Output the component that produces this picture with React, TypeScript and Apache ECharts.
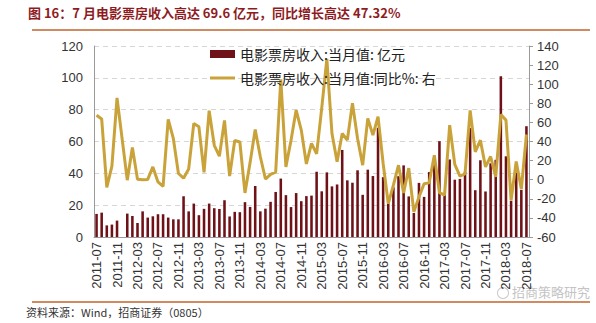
import React, { useEffect, useRef } from "react";
import * as echarts from "echarts";

const categories = [
  "2011-07","2011-08","2011-09","2011-10","2011-11","2011-12",
  "2012-01","2012-02","2012-03","2012-04","2012-05","2012-06","2012-07","2012-08","2012-09","2012-10","2012-11","2012-12",
  "2013-01","2013-02","2013-03","2013-04","2013-05","2013-06","2013-07","2013-08","2013-09","2013-10","2013-11","2013-12",
  "2014-01","2014-02","2014-03","2014-04","2014-05","2014-06","2014-07","2014-08","2014-09","2014-10","2014-11","2014-12",
  "2015-01","2015-02","2015-03","2015-04","2015-05","2015-06","2015-07","2015-08","2015-09","2015-10","2015-11","2015-12",
  "2016-01","2016-02","2016-03","2016-04","2016-05","2016-06","2016-07","2016-08","2016-09","2016-10","2016-11","2016-12",
  "2017-01","2017-02","2017-03","2017-04","2017-05","2017-06","2017-07","2017-08","2017-09","2017-10","2017-11","2017-12",
  "2018-01","2018-02","2018-03","2018-04","2018-05","2018-06","2018-07",
];

// 电影票房收入:当月值 (亿元)
const boxOffice = [
  14.5, 15.3, 7.3, 7.8, 10.3, null,
  14.7, 13.2, 8.8, 16.1, 12.2, 13.0, 14.3, 14.3, 12.2, 11.1, 11.1, 25.6,
  16.1, 21.0, 13.7, 17.7, 21.0, 18.1, 17.6, 23.1, 12.9, 15.8, 15.6, 21.9,
  18.9, 32.1, 16.1, 17.8, 22.1, 28.3, 36.7, 26.3, 18.8, 27.6, 22.5, 25.7,
  26.0, 41.0, 28.7, 40.6, 31.8, 33.0, 54.7, 35.6, 34.1, 41.9, 26.5, 42.3,
  38.3, 68.6, 37.6, 21.0, 31.2, 38.2, 45.0, 25.5, 15.1, 34.0, 25.2, 40.8,
  48.0, 60.2, 26.5, 48.7, 36.0, 36.5, 41.0, 68.5, 29.4, 48.2, 28.6, 46.3,
  48.5, 101.0, 50.7, 22.8, 40.5, 29.6, 69.6,
];

// 电影票房收入:当月值:同比 (%)
const yoy = [
  67.5, 63.6, -8, 14.3, 85.7, null,
  -0.5, 33.7, 0.5, 0, 0.3, 13.4, -2.3, -7, 63.2, 43.2, 6.5, 1.6,
  11.2, 58.9, 55.4, 7.7, 72.2, 36, 24.6, 62, 3.8, 41, 39.5, -13.8,
  17.9, 52.6, 24, 0.7, 5.6, 8, 105, 13.4, 41.4, 72.9, 52, 16.5,
  38, 27, 75, 126.5, 48.4, 18.7, 48.4, 41.4, 80, 43.2, 15.2, 64.2,
  46.7, 65.9, 17, -25, -5.8, 15.2, -14, 12.2, -33.7, -18, -4.3, -3.3,
  25.7, -13.6, -16.2, 57.2, 16, 3.8, 6, 72.5, 29.2, 41.4, 13.4, 24.3,
  2.9, 68.2, 62.4, -21.5, 19, -9.8, 47.32,
];

const leftTicks = { min: 0, max: 120, interval: 20 };
const rightTicks = { min: -60, max: 140, interval: 20 };

const titleText = "图 16：7 月电影票房收入高达 69.6 亿元，同比增长高达 47.32%";
const sourceText = "资料来源：Wind，招商证券（0805）";
const barName = "电影票房收入:当月值: 亿元";
const lineName = "电影票房收入:当月值:同比%: 右";

const BAR_COLOR = "#6e1218";
const LINE_COLOR = "#c9a23a";
const CJK = "'Noto Sans CJK SC', 'Liberation Sans', sans-serif";
const NUM = "'Liberation Sans', Arial, sans-serif";

export default function App() {
  const ref = useRef<HTMLDivElement>(null);
  useEffect(() => {
    document.body.style.margin = "0";
    if (!ref.current) return;
    const chart = echarts.init(ref.current, undefined, { renderer: "svg" });
    const option: any = {
      animation: false,
      backgroundColor: "#ffffff",
      grid: { left: 94, right: 67, top: 46, bottom: 86 },
      legend: [
        {
          data: [{ name: barName, icon: "rect" }],
          left: 205,
          top: 42,
          itemWidth: 25,
          itemHeight: 8,
          itemGap: 6,
          textStyle: { fontFamily: CJK, fontSize: 14, color: "#222" },
          selectedMode: false,
        },
        {
          data: [{ name: lineName, icon: "rect" }],
          left: 205,
          top: 66,
          itemWidth: 25,
          itemHeight: 3,
          itemGap: 6,
          textStyle: { fontFamily: CJK, fontSize: 14, color: "#222" },
          selectedMode: false,
        },
      ],
      xAxis: {
        type: "category",
        data: categories,
        boundaryGap: true,
        axisLine: { lineStyle: { color: "#9a9a9a" } },
        axisTick: { interval: 3, length: 4, lineStyle: { color: "#9a9a9a" } },
        axisLabel: {
          interval: 3,
          rotate: 90,
          fontSize: 13,
          fontFamily: NUM,
          color: "#333",
          margin: 5,
        },
      },
      yAxis: [
        {
          type: "value",
          ...leftTicks,
          axisLine: { show: true, lineStyle: { color: "#9a9a9a" } },
          axisTick: { show: false },
          axisLabel: { fontSize: 13, fontFamily: NUM, color: "#333", margin: 11 },
          splitLine: { lineStyle: { type: [5, 4], color: "#d6d6d6" } },
        },
        {
          type: "value",
          position: "right",
          ...rightTicks,
          axisLine: { show: true, lineStyle: { color: "#9a9a9a" } },
          axisTick: { show: true, length: 4, lineStyle: { color: "#9a9a9a" } },
          axisLabel: { fontSize: 13, fontFamily: NUM, color: "#333", margin: 8 },
          splitLine: { show: false },
        },
      ],
      series: [
        {
          name: barName,
          type: "bar",
          data: boxOffice,
          yAxisIndex: 0,
          barWidth: "50%",
          itemStyle: { color: BAR_COLOR },
        },
        {
          name: lineName,
          type: "line",
          data: yoy,
          yAxisIndex: 1,
          symbol: "none",
          connectNulls: true,
          lineStyle: { color: LINE_COLOR, width: 3 },
          itemStyle: { color: LINE_COLOR },
        },
      ],
      graphic: [
        {
          type: "text",
          left: 28,
          top: 6,
          style: {
            text: titleText,
            fontFamily: CJK,
            fontWeight: "bold",
            fontSize: 13,
            fill: "#8e1c1f",
          },
        },
        {
          type: "line",
          shape: { x1: 32, y1: 30, x2: 590, y2: 30 },
          style: { stroke: "#c0652f", lineWidth: 1.5 },
        },
        {
          type: "line",
          shape: { x1: 32, y1: 302, x2: 590, y2: 302 },
          style: { stroke: "#c0652f", lineWidth: 1.5 },
        },
        {
          type: "text",
          left: 26,
          top: 306,
          style: { text: sourceText, fontFamily: CJK, fontSize: 11, fill: "#333" },
        },
        {
          type: "ring",
          shape: { cx: 503, cy: 293, r: 6, r0: 5 },
          style: { fill: "#c8c8c8" },
        },
        {
          type: "text",
          left: 512,
          top: 285,
          style: { text: "招商策略研究", fontFamily: CJK, fontSize: 13, fill: "#c4c4c4" },
        },
      ],
    };
    chart.setOption(option);
    return () => chart.dispose();
  }, []);
  return <div ref={ref} style={{ width: 596, height: 323 }} />;
}
